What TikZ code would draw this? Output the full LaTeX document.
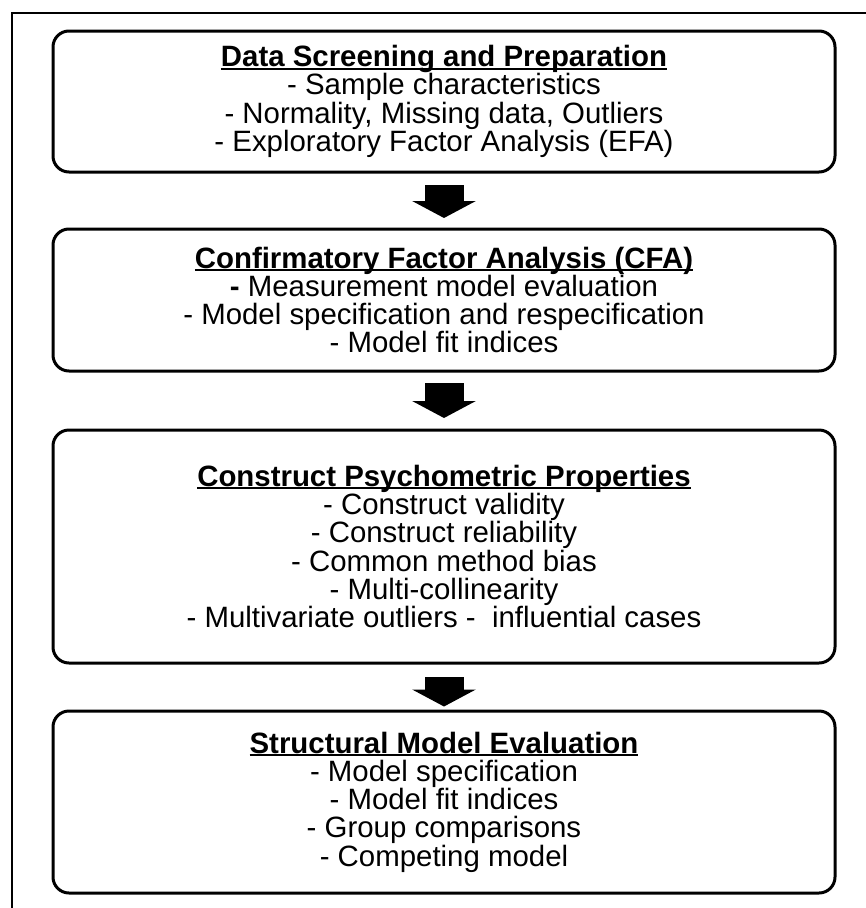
\documentclass[tikz,border=0pt]{standalone}
\usepackage{fontspec}
\setmainfont{Liberation Sans}
\usetikzlibrary{arrows.meta, positioning}

% bold heading with a thick underline
\newcommand{\boxtitle}[1]{\setbox0\hbox{\bfseries #1}\rlap{\rule[-3.2pt]{\wd0}{2.2pt}}\box0}

\begin{document}
\begin{tikzpicture}[
    x=1pt, y=-1pt,
    stage/.style={rectangle, draw, line width=3pt, rounded corners=16pt, minimum width=782pt, inner sep=0pt, align=center, font=\fontsize{29.4}{28.3}\selectfont},
    flow/.style={-{Triangle[width=63pt, length=17pt]}, line width=39pt},
]
\useasboundingbox (0,0) rectangle (866,908);

% outer frame (runs off the page right and below)
\draw[line width=2pt] (12,13) rectangle (900,950);

% Stages
\node[stage, minimum height=141pt] (screen) at (444,101.5) {\boxtitle{Data Screening and Preparation}\\- Sample characteristics\\- Normality, Missing data, Outliers\\- Exploratory Factor Analysis (EFA)};
\node[stage, minimum height=142pt] (cfa) at (444,300) {\boxtitle{Confirmatory Factor Analysis (CFA)}\\\textbf{-} Measurement model evaluation\\- Model specification and respecification\\- Model fit indices};
\node[stage, minimum height=233pt] (psycho) at (444,546.5) {\boxtitle{Construct Psychometric Properties}\\- Construct validity\\- Construct reliability\\- Common method bias\\- Multi-collinearity\\- Multivariate outliers -\ \ influential cases};
\node[stage, minimum height=182pt] (sem) at (444,802) {\boxtitle{Structural Model Evaluation}\\- Model specification\\- Model fit indices\\- Group comparisons\\- Competing model};

% === Block arrows ===
\draw[flow, shorten <=11.5pt, shorten >=9.5pt] (screen.south) -- (cfa.north);
\draw[flow, shorten <=10.5pt, shorten >=10.5pt] (cfa.south) -- (psycho.north);
\draw[flow, shorten <=12.5pt, shorten >=3pt] (psycho.south) -- (sem.north);

\end{tikzpicture}
\end{document}
